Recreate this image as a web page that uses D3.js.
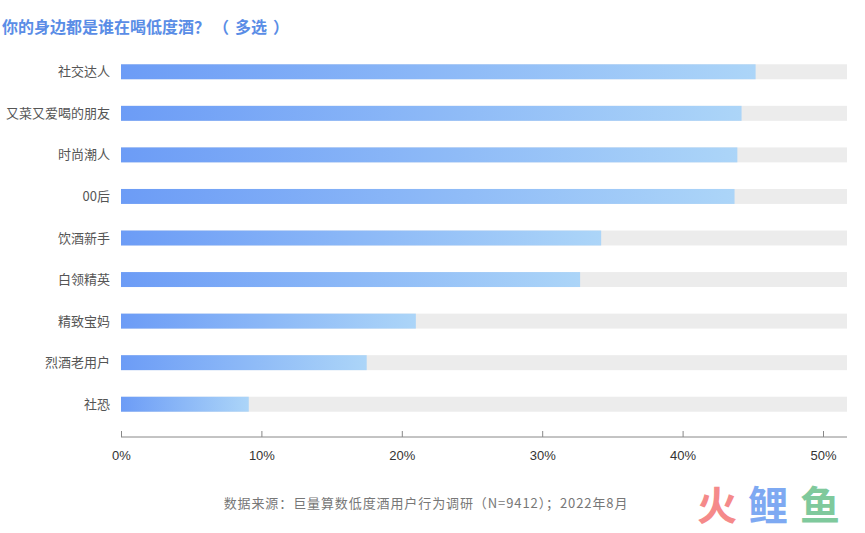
<!DOCTYPE html>
<html><head><meta charset="utf-8">
<script src="https://cdn.jsdelivr.net/npm/d3@7"></script>
<style>
html,body{margin:0;padding:0;background:#fff;}
svg{display:block;font-family:"Noto Sans CJK SC","Noto Sans",sans-serif;}
</style></head>
<body><svg id="c" width="865" height="533"></svg>
<script>
const categories = ["社交达人","又菜又爱喝的朋友","时尚潮人","00后","饮酒新手","白领精英","精致宝妈","烈酒老用户","社恐"];
const values = [45.2, 44.2, 43.9, 43.7, 34.2, 32.7, 21.0, 17.5, 9.1];
const tickValues = [0, 10, 20, 30, 40, 50];
const titleParts = ["你的身边都是谁在喝低度酒？", "（", "多选", "）"];
const source = "数据来源：巨量算数低度酒用户行为调研（N=9412）；2022年8月";

const svg = d3.select("#c");
const x = d3.scaleLinear().domain([0, 50]).range([121, 823]);
const trackEnd = 847;
const y = d3.scaleBand().domain(categories).range([51, 425]).paddingInner(0.64).paddingOuter(0.32);

const defs = svg.append("defs");
const g = defs.append("linearGradient").attr("id","bg").attr("x1","0").attr("x2","1").attr("y1","0").attr("y2","0");
g.append("stop").attr("offset","0%").attr("stop-color","#6c9cf6");
g.append("stop").attr("offset","100%").attr("stop-color","#acd5f8");

const t = svg.append("text").attr("x",2).attr("y",33).attr("fill","#5a8de6")
  .attr("font-size",16).attr("font-weight","bold");
t.append("tspan").text(titleParts[0]);
t.append("tspan").attr("dx",3).text(titleParts[1]);
t.append("tspan").attr("dx",6).text(titleParts[2]);
t.append("tspan").attr("dx",6).text(titleParts[3]);

svg.append("g").selectAll("rect").data(categories).join("rect")
  .attr("x", x(0)).attr("y", d=>y(d)).attr("width", trackEnd - x(0)).attr("height", y.bandwidth())
  .attr("fill","#ececec");

svg.append("g").selectAll("rect").data(values).join("rect")
  .attr("x", x(0)).attr("y", (d,i)=>y(categories[i])).attr("width", d=>x(d)-x(0)).attr("height", y.bandwidth())
  .attr("fill","url(#bg)");

svg.append("g").selectAll("text").data(categories).join("text")
  .attr("x", 110).attr("y", d=>y(d)+y.bandwidth()/2).attr("dy","0.35em")
  .attr("text-anchor","end").attr("font-size",13).attr("fill","#555").text(d=>d);

const ax = svg.append("g").attr("transform","translate(0,437)")
  .call(d3.axisBottom(x).tickValues(tickValues).tickFormat(d=>d+"%").tickSize(-6).tickPadding(14));
ax.select(".domain").attr("d", `M${x(0)},0H${trackEnd}`).attr("stroke","#888");
ax.selectAll(".tick line").attr("stroke","#888");
ax.selectAll(".tick text").attr("font-size",13).attr("fill","#333").attr("font-family","'Liberation Sans','Noto Sans',sans-serif");

svg.append("text").attr("x",426).attr("y",508).attr("text-anchor","middle")
  .attr("font-size",13).attr("letter-spacing",0.9).attr("fill","#777").text(source);

const logo = svg.append("g").attr("font-size",40).attr("font-weight","bold");
[["火","#f58a8a",697],["鲤","#7ea9f2",748],["鱼","#7fc99c",800]].forEach(([tx,c,px])=>{
  logo.append("text").attr("x",px).attr("y",520).attr("fill",c).text(tx);
});
</script></body></html>
